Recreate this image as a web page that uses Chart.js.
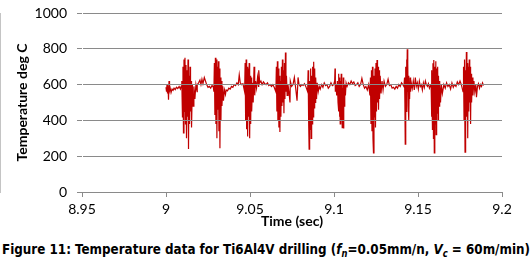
<!DOCTYPE html>
<html><head><meta charset="utf-8">
<script src="https://cdn.jsdelivr.net/npm/chart.js@4"></script>
<style>
html,body{margin:0;padding:0;background:#fff;}
body{position:relative;width:532px;height:260px;overflow:hidden;}
canvas{display:block;}
#cap{position:absolute;left:2px;top:241px;font-family:"DejaVu Sans Condensed","DejaVu Sans";font-weight:bold;font-size:14px;line-height:17px;white-space:nowrap;transform-origin:0 0;color:#000;}
#cap sub{font-size:0.7em;vertical-align:-0.3em;line-height:0;}
</style></head>
<body><canvas id="c" width="532" height="232"></canvas><div id="cap">Figure 11: Temperature data for Ti6Al4V drilling (<i>f</i><sub><i>n</i></sub>=0.05mm/n, <i>V</i><sub><i>c</i></sub> = 60m/min)</div>
<script>
// ---- data ----
const xTickLabels = ["8.95", "9", "9.05", "9.1", "9.15", "9.2"];
const yTickLabels = ["0", "200", "400", "600", "800", "1000"];

const timeSec = [
9.0000,9.0003,9.0006,9.0009,9.0012,9.0015,9.0018,9.0021,9.0025,9.0030,9.0036,9.0042,9.0048,9.0055,9.0062,9.0070,9.0078,9.0086,9.0090,
9.0094,9.0098,9.0101,9.0104,9.0107,9.0110,9.0113,9.0116,9.0119,9.0122,9.0125,9.0128,9.0131,9.0134,9.0137,9.0140,9.0143,9.0146,9.0149,9.0152,9.0157,9.0161,9.0166,9.0172,9.0178,9.0185,
9.0186,9.0194,9.0202,9.0208,9.0214,9.0220,9.0228,9.0235,9.0242,9.0250,9.0258,9.0266,9.0274,9.0282,
9.0285,9.0288,9.0291,9.0294,9.0297,9.0300,9.0303,9.0306,9.0309,9.0312,9.0315,9.0318,9.0321,9.0324,9.0327,9.0330,9.0333,9.0338,9.0342,9.0348,9.0354,
9.0358,9.0366,9.0374,9.0382,9.0390,9.0398,9.0406,9.0414,9.0422,9.0430,9.0436,9.0442,9.0450,9.0458,
9.0468,9.0471,9.0474,9.0477,9.0480,9.0483,9.0486,9.0489,9.0492,9.0495,9.0498,9.0501,9.0504,9.0507,9.0510,9.0515,9.0519,9.0524,9.0528,9.0533,9.0539,9.0545,9.0551,
9.0552,9.0558,9.0565,9.0572,9.0580,9.0588,9.0596,9.0604,9.0612,9.0620,9.0628,9.0636,9.0644,
9.0654,9.0657,9.0660,9.0663,9.0666,9.0669,9.0672,9.0675,9.0678,9.0681,9.0684,9.0687,9.0690,9.0693,9.0696,9.0699,9.0702,9.0705,9.0708,9.0711,9.0714,9.0717,9.0721,9.0726,9.0732,9.0738,
9.0740,9.0748,9.0756,9.0764,9.0772,9.0780,9.0786,9.0792,9.0800,9.0808,9.0816,9.0824,9.0832,
9.0843,9.0846,9.0849,9.0852,9.0855,9.0858,9.0861,9.0864,9.0867,9.0870,9.0873,9.0876,9.0879,9.0882,9.0885,9.0888,9.0891,9.0896,9.0900,9.0906,9.0912,
9.0918,9.0926,9.0934,9.0942,9.0950,9.0958,9.0966,9.0974,9.0982,9.0990,9.0998,
9.1004,9.1006,9.1008,9.1012,9.1016,9.1020,9.1024,9.1027,9.1029,9.1031,9.1033,9.1035,9.1037,9.1039,9.1041,9.1043,9.1045,9.1047,9.1049,9.1051,9.1053,9.1055,9.1057,9.1059,9.1061,9.1064,9.1068,9.1072,
9.1078,9.1086,9.1094,9.1102,9.1110,9.1118,9.1126,9.1134,9.1142,9.1150,9.1158,9.1166,9.1174,9.1182,9.1190,9.1198,9.1206,
9.1214,9.1217,9.1220,9.1223,9.1226,9.1229,9.1232,9.1235,9.1238,9.1241,9.1244,9.1247,9.1250,9.1253,9.1256,9.1259,9.1262,9.1265,9.1268,9.1271,9.1275,9.1280,9.1286,9.1292,
9.1298,9.1306,9.1314,9.1322,9.1330,9.1338,9.1346,9.1354,9.1362,9.1370,9.1378,9.1386,9.1394,9.1402,9.1410,
9.1416,9.1420,9.1422,9.1424,9.1426,9.1428,9.1430,9.1432,9.1434,9.1436,9.1438,9.1440,9.1442,9.1444,9.1446,9.1448,9.1450,9.1453,9.1456,9.1460,
9.1466,9.1472,9.1478,9.1484,9.1490,9.1496,9.1502,9.1508,9.1514,9.1520,9.1526,9.1532,9.1538,9.1544,9.1550,9.1556,9.1562,9.1568,9.1574,
9.1578,9.1580,9.1583,9.1586,9.1589,9.1592,9.1594,9.1597,9.1600,9.1603,9.1606,9.1608,9.1611,9.1614,9.1617,9.1620,9.1622,9.1625,9.1629,9.1634,9.1639,9.1645,
9.1654,9.1662,9.1670,9.1678,9.1686,9.1694,9.1702,9.1710,9.1718,9.1726,9.1734,9.1742,9.1750,9.1758,
9.1768,9.1771,9.1774,9.1777,9.1780,9.1782,9.1785,9.1788,9.1791,9.1794,9.1796,9.1799,9.1802,9.1805,9.1808,9.1810,9.1813,9.1816,9.1819,9.1823,9.1827,9.1833,9.1838,9.1844,
9.1848,9.1854,9.1860,9.1866,9.1872,9.1878,9.1884,9.1890
];

const tempDegC = [
585,560,600,550,590,515,620,565,580,555,575,568,580,572,585,578,590,575,590,
620,420,700,330,740,450,750,380,710,300,680,420,740,240,650,380,700,450,620,360,600,480,590,520,600,560,
600,610,625,600,630,605,640,620,600,585,590,580,595,585,
560,720,430,750,380,740,300,700,460,730,340,690,245,640,400,620,480,590,510,570,545,
570,565,580,575,590,585,600,595,610,600,655,610,600,605,
560,720,400,740,350,700,310,690,420,720,300,650,380,640,450,610,500,700,540,620,580,640,590,
680,610,620,600,615,605,600,610,595,600,590,600,585,
560,700,450,730,400,690,360,650,335,620,420,700,480,740,500,680,440,720,520,780,560,650,540,600,560,500,
620,590,600,640,580,510,640,600,590,600,595,605,590,
560,680,400,240,620,350,690,300,650,380,700,420,728,470,690,500,640,520,610,560,590,
575,600,585,610,595,600,580,590,610,595,600,
620,690,560,600,540,620,500,660,450,640,420,600,380,620,440,660,400,600,360,580,460,640,355,560,480,600,540,610,
590,610,600,620,605,615,595,600,610,590,600,635,600,580,590,570,600,
540,640,380,680,340,700,300,218,650,420,690,360,720,450,737,500,700,460,680,520,650,550,620,570,
620,590,600,630,595,600,580,585,575,590,580,600,590,610,600,
590,640,500,268,560,700,450,740,520,798,560,720,480,650,400,600,520,640,560,610,
580,620,570,640,590,610,575,620,590,600,570,610,585,620,600,590,605,580,595,
600,420,680,350,720,300,737,218,700,380,730,320,690,440,700,400,650,480,620,500,600,550,
600,580,610,590,600,575,610,585,600,590,615,600,620,600,
560,700,400,740,222,680,350,782,420,720,300,700,450,740,500,700,380,660,500,640,540,620,560,600,
530,590,605,580,600,590,610,595
];

// ---- build chart ----
const count = Math.min(timeSec.length, tempDegC.length);
const seriesPoints = [];
for (let i = 0; i < count; i++) seriesPoints.push({x: timeSec[i], y: tempDegC[i]});

const gridGray = '#8a8a8a';

new Chart(document.getElementById('c'), {
  type: 'line',
  data: {
    datasets: [{
      data: seriesPoints,
      borderColor: '#C00000',
      borderWidth: 1.2,
      pointRadius: 0,
      tension: 0,
      fill: false
    }]
  },
  options: {
    responsive: false,
    animation: false,
    devicePixelRatio: 1,
    layout: {padding: {top: 13, right: 30, left: 0, bottom: 0}},
    plugins: {legend: {display: false}, tooltip: {enabled: false}},
    scales: {
      x: {
        type: 'linear',
        min: 8.95, max: 9.2,
        afterFit: s => { s.height = 40; },
        ticks: {
          stepSize: 0.05,
          font: {family: 'Lato', size: 14}, color: '#000', padding: 4, maxRotation: 0, autoSkip: false,
          callback: (v, i) => xTickLabels[i]
        },
        grid: {color: 'rgba(0,0,0,0)', tickColor: gridGray, tickLength: 5, lineWidth: 1},
        border: {display: true, color: gridGray, width: 1},
        title: {display: true, text: 'Time (sec)', font: {family: 'Lato', size: 14, weight: 'bold'}, color: '#000', padding: {top: 0, bottom: 2}}
      },
      y: {
        min: 0, max: 1000,
        afterFit: s => { s.width = 82; },
        ticks: {
          stepSize: 200,
          font: {family: 'Lato', size: 14, lineHeight: 0.43}, color: '#000', padding: 10, autoSkip: false,
          callback: (v, i) => yTickLabels[i]
        },
        grid: {color: gridGray, lineWidth: 1, tickLength: 5, z: 1},
        border: {display: true, color: gridGray, width: 1},
        title: {display: true, text: 'Temperature deg C', font: {family: 'Lato', size: 14, weight: 'bold'}, color: '#000', padding: {top: 14, bottom: 0}}
      }
    }
  }
});

// fit caption to the reference width
const cap = document.getElementById('cap');
const capW = cap.getBoundingClientRect().width;
cap.style.transform = 'scaleX(' + (528 / capW) + ')';
</script>
</body></html>
